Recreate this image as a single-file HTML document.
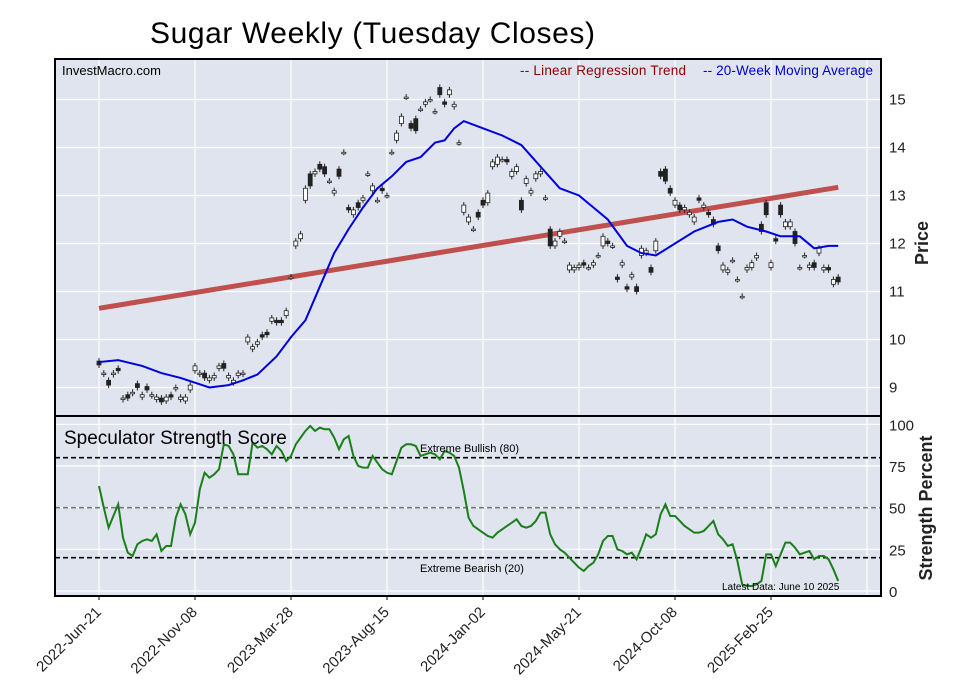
<!DOCTYPE html>
<html><head><meta charset="utf-8">
<style>
body{margin:0;background:#fff;}
svg{display:block;font-family:"Liberation Sans",sans-serif;}
</style></head>
<body>
<svg id="chart" width="957" height="694" viewBox="0 0 957 694">
<text x="150" y="43" font-size="30" fill="#000" textLength="445">Sugar Weekly (Tuesday Closes)</text>
<rect x="55" y="59" width="826" height="357" fill="#dfe4ee"/>
<rect x="55" y="416" width="826" height="180" fill="#dfe4ee"/>
<g id="grid"></g>
<g id="marks"></g>
<rect x="55" y="59" width="826" height="357" fill="none" stroke="#000" stroke-width="2"/>
<rect x="55" y="416" width="826" height="180" fill="none" stroke="#000" stroke-width="2"/>
<text x="62" y="75" font-size="13" fill="#000">InvestMacro.com</text>
<text x="520" y="75" font-size="13.5" fill="#8b0000" textLength="166">-- Linear Regression Trend</text>
<text x="703" y="75" font-size="13.5" fill="#0000cc" textLength="170">-- 20-Week Moving Average</text>
<text x="64" y="444" font-size="19" fill="#000">Speculator Strength Score</text>
<text x="420" y="452" font-size="11" fill="#000">Extreme Bullish (80)</text>
<text x="420" y="572" font-size="11" fill="#000">Extreme Bearish (20)</text>
<text x="722" y="590" font-size="10" fill="#000">Latest Data: June 10 2025</text>
<text transform="translate(928,243) rotate(-90)" text-anchor="middle" font-size="18" font-weight="bold" fill="#222">Price</text>
<text transform="translate(932,508) rotate(-90)" text-anchor="middle" font-size="18" font-weight="bold" fill="#222">Strength Percent</text>
</svg>
<script>
const closes=[9.47,9.3,9.05,9.3,9.35,8.78,8.78,8.9,9.0,8.85,8.95,8.85,8.8,8.7,8.8,8.8,9.0,8.8,8.8,9.05,9.45,9.3,9.2,9.2,9.25,9.45,9.4,9.25,9.15,9.3,9.3,10.05,9.85,9.95,10.05,10.1,10.45,10.35,10.35,10.6,11.3,12.05,12.2,13.15,13.2,13.5,13.55,13.45,13.3,13.1,13.4,13.9,12.7,12.7,12.75,12.95,13.45,13.2,12.9,13.1,13.0,13.9,14.3,14.65,15.05,14.4,14.35,14.8,14.95,15.0,14.75,15.1,14.9,15.2,14.9,14.1,12.8,12.55,12.3,12.55,12.8,13.05,13.7,13.8,13.75,13.7,13.5,13.6,12.7,13.35,13.1,13.45,13.5,12.95,11.95,12.05,12.25,12.05,11.55,11.5,11.55,11.55,11.5,11.6,11.75,12.15,12.0,11.95,11.25,11.6,11.05,11.35,11.0,11.9,11.85,11.4,12.05,13.4,13.3,13.05,12.9,12.7,12.75,12.65,12.55,12.9,12.8,12.6,12.4,11.85,11.55,11.45,11.65,11.25,10.9,11.5,11.6,11.75,12.25,12.6,11.6,12.05,12.6,12.45,12.45,12.0,11.5,11.75,11.55,11.5,11.9,11.5,11.45,11.25,11.2];
const opens=[9.55,9.28,9.15,9.27,9.4,8.75,8.85,8.88,9.08,8.8,9.02,8.83,8.75,8.78,8.72,8.85,8.98,8.75,8.72,8.95,9.35,9.28,9.3,9.15,9.2,9.4,9.5,9.2,9.1,9.25,9.28,9.95,9.8,9.9,10.1,10.15,10.38,10.4,10.4,10.5,11.3,11.95,12.1,12.9,13.45,13.45,13.65,13.6,13.3,13.05,13.55,13.9,12.75,12.6,12.85,12.9,13.45,13.1,12.9,13.15,13.0,13.9,14.15,14.5,15.05,14.5,14.6,14.8,14.9,15.0,14.75,15.25,14.95,15.1,14.85,14.1,12.65,12.45,12.3,12.65,12.9,12.85,13.6,13.65,13.75,13.75,13.4,13.5,12.9,13.25,13.05,13.35,13.45,12.95,12.3,11.95,12.15,12.05,11.45,11.45,11.5,11.6,11.5,11.55,11.75,11.95,12.05,11.95,11.3,11.55,11.1,11.3,11.1,11.75,11.8,11.5,11.85,13.5,13.55,13.15,12.8,12.8,12.7,12.6,12.45,12.95,12.75,12.65,12.5,11.95,11.45,11.4,11.65,11.25,10.9,11.45,11.5,11.7,12.4,12.85,11.5,12.1,12.8,12.35,12.35,12.25,11.5,11.75,11.5,11.6,11.8,11.45,11.5,11.15,11.3];
const maIdx=[0,4,9,13,17,20,23,27,30,33,37,40,43,46,49,52,55,58,61,64,67,70,72,74,76,80,84,88,92,96,100,106,110,113,116,120,124,129,132,135,139,142,146,149,152,154];
const maVals=[9.53,9.57,9.45,9.3,9.2,9.1,9.0,9.05,9.15,9.27,9.65,10.05,10.4,11.1,11.8,12.3,12.75,13.15,13.4,13.7,13.8,14.1,14.15,14.4,14.55,14.4,14.25,14.05,13.6,13.15,13.0,12.5,11.95,11.8,11.75,12.0,12.25,12.45,12.5,12.35,12.25,12.15,12.15,11.9,11.95,11.95];
const trendStartEnd=[10.65,13.17];
const strength=[63,50,38,45,52,32,23,21,28,30,31,30,34,24,27,27,44,52,46,34,41,61,71,68,70,73,88,87,82,70,70,70,89,86,87,85,82,87,84,78,81,88,92,96,99,96,98,97,97,92,85,91,93,81,75,74,74,81,77,73,71,70,78,86,88,88,87,81,82,83,82,79,84,83,81,74,60,44,39,37,35,33,32,35,37,39,41,43,39,38,39,42,47,47,34,28,25,23,20,17,14,12,15,17,22,30,33,33,25,24,22,23,19,26,34,32,34,46,52,45,45,42,39,37,35,35,36,39,42,34,31,27,28,18,4,3,3,4,6,22,22,15,22,29,29,26,22,23,24,19,21,21,19,13,6];
const dateLabels=["2022-Jun-21","2022-Nov-08","2023-Mar-28","2023-Aug-15","2024-Jan-02","2024-May-21","2024-Oct-08","2025-Feb-25"];
const dateLabelWeeks=[0,20,40,60,80,100,120,140];
const priceTicks=[9,10,11,12,13,14,15];
const strengthTicks=[0,25,50,75,100];

const NS="http://www.w3.org/2000/svg";
const xW=i=>99+i*4.8;
const yP=p=>99.5+(15-p)*48;
const yS=v=>591-v*1.667;
function mk(tag,attrs,parent){const e=document.createElementNS(NS,tag);for(const k in attrs)e.setAttribute(k,attrs[k]);parent.appendChild(e);return e;}
const grid=document.getElementById('grid'),marks=document.getElementById('marks'),svg=document.getElementById('chart');

for(let k=0;k<9;k++){const x=xW(k*20);
 const l1=mk('line',{x1:x,x2:x,y1:59,y2:416,stroke:'#fff','stroke-width':1.2},grid);
 
 
 const l2=mk('line',{x1:x,x2:x,y1:416,y2:596,stroke:'#fff','stroke-width':1.2},grid);
 
 }
priceTicks.forEach(p=>{const y=yP(p);
 const l=mk('line',{x1:55,x2:881,y1:y,y2:y,stroke:'#fff','stroke-width':1.2},grid);
 
 
 const t=mk('text',{x:889,y:y+5,'font-size':15,fill:'#222'},svg);t.textContent=p;
 
 });
strengthTicks.forEach(v=>{const y=yS(v);
 const l=mk('line',{x1:55,x2:881,y1:y,y2:y,stroke:'#fff','stroke-width':1.2},grid);
 
 
 const t=mk('text',{x:889,y:y+6,'font-size':15,fill:'#222'},svg);t.textContent=v;
 
 });
dateLabels.forEach((d,k)=>{const x=xW(dateLabelWeeks[k]);
 const tk=mk('line',{x1:x,x2:x,y1:596,y2:600,stroke:'#000'},svg);
 
 
 const t=mk('text',{transform:`translate(${x+3},613) rotate(-45)`,'text-anchor':'end','font-size':15,fill:'#222'},svg);t.textContent=d;
 
 });

[[80,'#000'],[50,'#777'],[20,'#000']].forEach(([v,c])=>{
 const l=mk('line',{x1:55,x2:881,y1:yS(v),y2:yS(v),stroke:c,'stroke-width':1.6,'stroke-dasharray':'5,3'},marks);
 
 });

const tr=mk('line',{x1:xW(0),y1:yP(trendStartEnd[0]),x2:xW(closes.length-1),y2:yP(trendStartEnd[1]),stroke:'#c0504d','stroke-width':5},marks);



closes.forEach((c,i)=>{const o=opens[i],x=xW(i);
 const hi=Math.max(o,c),lo=Math.min(o,c);
 const g=mk('g',{},marks);
 
 
 mk('line',{x1:x,x2:x,y1:yP(hi)-3,y2:yP(lo)+3,stroke:'#222','stroke-width':1},g);
 mk('rect',{x:x-2,y:yP(hi),width:4,height:Math.max(1.5,yP(lo)-yP(hi)),fill:c<o?'#222':'#fff',stroke:'#222','stroke-width':0.8},g);});

const ma=mk('polyline',{points:maIdx.map((k,j)=>xW(k)+','+yP(maVals[j])).join(' '),fill:'none',stroke:'#0000dd','stroke-width':2},marks);



const sl=mk('polyline',{points:strength.map((v,i)=>xW(i)+','+yS(v)).join(' '),fill:'none',stroke:'#1a7f1a','stroke-width':2},marks);


</script>
</body></html>
